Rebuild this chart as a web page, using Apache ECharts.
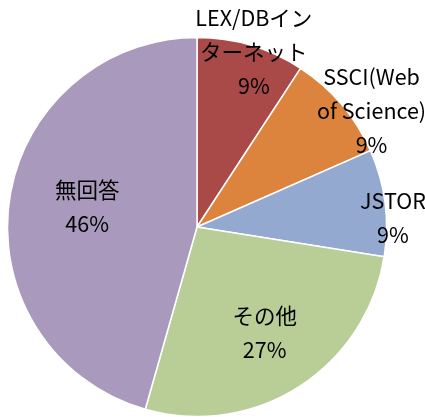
<!DOCTYPE html>
<html>
<head>
<meta charset="utf-8">
<script src="https://cdn.jsdelivr.net/npm/echarts@6/dist/echarts.min.js"></script>
<style>
  html, body { margin: 0; padding: 0; background: #fff; }
  #main { width: 425px; height: 417px; }
</style>
</head>
<body>
<div id="main"></div>
<script>
// 回答の内訳（%）
const categories = ['LEX/DBインターネット', 'SSCI(Web of Science)', 'JSTOR', 'その他', '無回答']
const values = [9.2, 9.2, 9.1, 26.9, 45.6]
// ラベルの改行位置
const labelLines = [
  ['LEX/DBイン', 'ターネット'],
  ['SSCI(Web', 'of Science)'],
  ['JSTOR'],
  ['その他'],
  ['無回答']
]
const colors = ['#A94A49', '#DC843E', '#93A9D0', '#B9CD96', '#A99ABD']
// ラベルの位置調整
const offsets = [[29, -81], [100, -53], [99, 3], [15, 23], [-13, -7]]

let myChart = echarts.init(document.getElementById('main'))

myChart.setOption({
  animation: false,
  series: [{
    type: 'pie',
    center: [197, 227],
    radius: 189.5,
    startAngle: 90,
    clockwise: true,
    itemStyle: {
      borderColor: '#fff',
      borderWidth: 1.5
    },
    label: {
      position: 'inside',
      color: '#000',
      fontSize: 21.5,
      lineHeight: 34,
      fontFamily: 'Noto Sans CJK JP',
      formatter: function (p) {
        return labelLines[p.dataIndex].join('\n') + '\n' + Math.round(p.percent) + '%'
      }
    },
    labelLine: { show: false },
    data: categories.map((name, i) => ({
      name: name,
      value: values[i],
      itemStyle: { color: colors[i] },
      label: { offset: offsets[i] }
    }))
  }]
})
</script>
</body>
</html>
